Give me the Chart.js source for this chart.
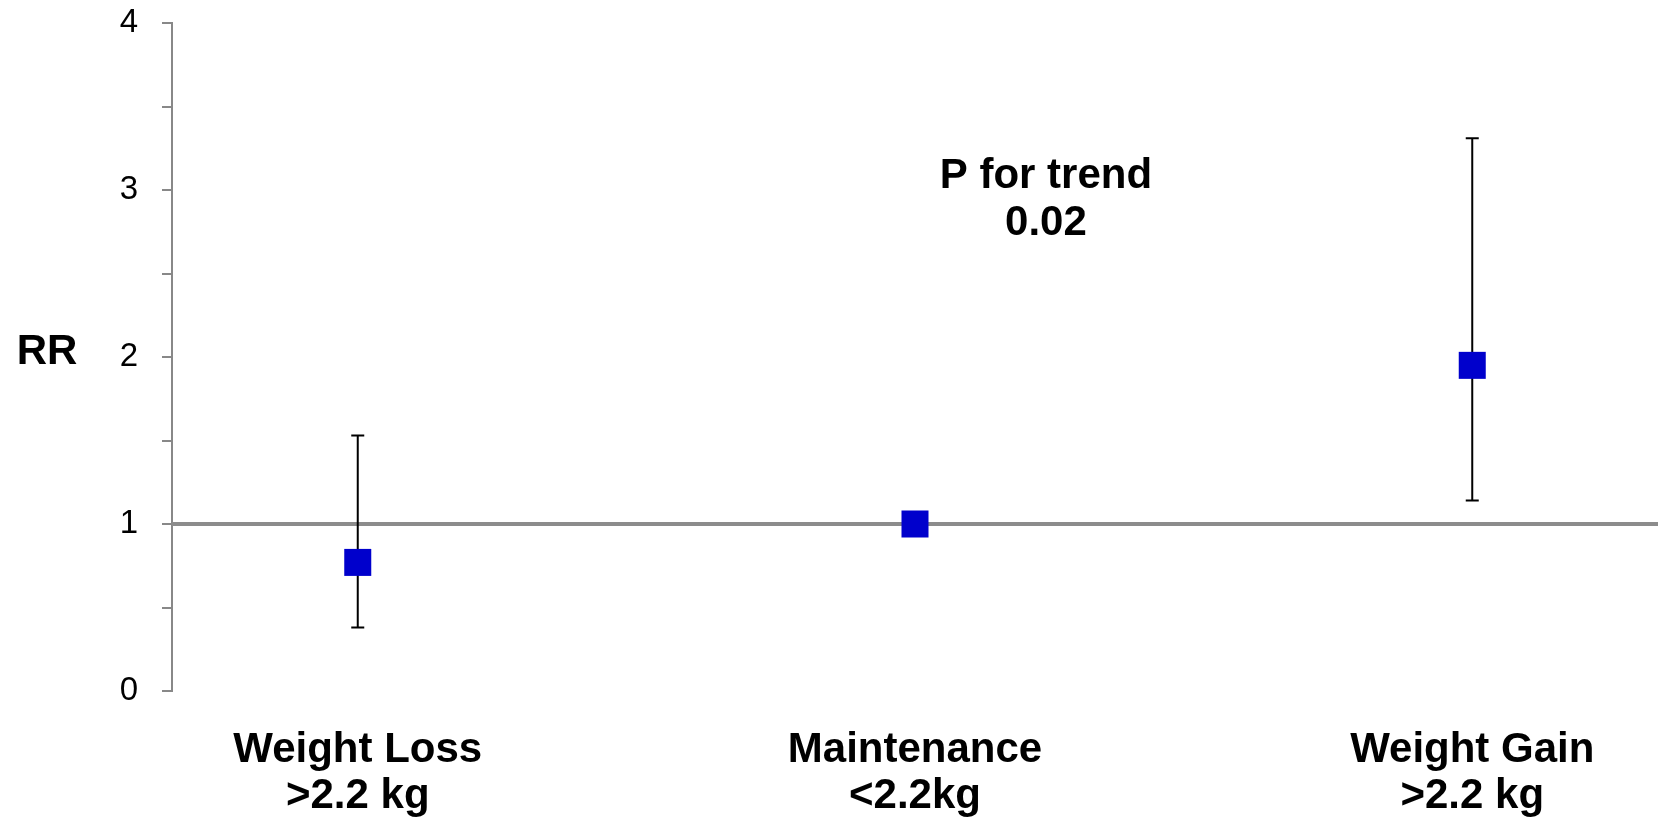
<!DOCTYPE html>
<html>
<head>
<meta charset="utf-8">
<script src="https://cdn.jsdelivr.net/npm/chart.js@4/dist/chart.umd.min.js"></script>
<style>
  html, body { margin: 0; padding: 0; background: #fff; overflow: hidden; }
  #wrap { width: 1658px; height: 825px; }
  canvas { display: block; }
</style>
</head>
<body>
<div id="wrap"><canvas id="rrChart" width="1658" height="825"></canvas></div>
<script>
// --- data ---
const categories = [
  ["Weight Loss", ">2.2 kg"],
  ["Maintenance", "<2.2kg"],
  ["Weight Gain", ">2.2 kg"],
];
const rrValues = [0.77, 1.0, 1.95]; //      relative risk per group
const ciLow = [0.38, null, 1.14]; //        lower bound of error bar
const ciHigh = [1.53, null, 3.31]; //       upper bound of error bar
const refValue = 1; //                      horizontal reference line
const yTickValues = [0, 1, 2, 3, 4];
const yAxisLabel = "RR";
const trendNote = ["P for trend", "0.02"];

// --- layout bits ---
const X_MIN = 2 / 3;
const X_MAX = 10 / 3;
const FONT = "'Liberation Sans', Arial, sans-serif";
const AXIS_GREY = "#888888";

(() => {
  const canvas = document.getElementById("rrChart");

  const points = rrValues.map((v, i) => ({ x: i + 1, y: v }));

  // error bars + extra text, drawn with the chart's own scales
  const extrasPlugin = {
    id: "extras",
    afterDatasetDraw(chart, args) {
      if (args.index !== 0) return; // draw right after the reference line
      const ctx = chart.ctx;
      const xs = chart.scales.x;
      const ys = chart.scales.y;
      ctx.save();
      ctx.strokeStyle = "#000000";
      ctx.lineWidth = 2;
      rrValues.forEach((v, i) => {
        if (ciLow[i] == null || ciHigh[i] == null) return;
        const px = xs.getPixelForValue(i + 1);
        const top = ys.getPixelForValue(ciHigh[i]);
        const bot = ys.getPixelForValue(ciLow[i]);
        ctx.beginPath();
        ctx.moveTo(px, top);
        ctx.lineTo(px, bot);
        ctx.moveTo(px - 6.5, top);
        ctx.lineTo(px + 6.5, top);
        ctx.moveTo(px - 6.5, bot);
        ctx.lineTo(px + 6.5, bot);
        ctx.stroke();
      });
      ctx.restore();
    },
    afterDraw(chart) {
      const ctx = chart.ctx;
      const xs = chart.scales.x;
      const ys = chart.scales.y;
      ctx.save();
      ctx.fillStyle = "#000000";
      ctx.textAlign = "center";
      ctx.textBaseline = "middle";
      ctx.font = "bold 42px " + FONT;
      // "RR" beside the y axis, level with tick 2
      ctx.fillText(yAxisLabel, 47, ys.getPixelForValue(2) - 5);
      // trend note
      const nx = xs.getPixelForValue(2.235);
      const ny = ys.getPixelForValue(3.08);
      trendNote.forEach((line, i) => {
        ctx.fillText(line, nx, ny + i * 47);
      });
      ctx.restore();
    },
  };

  new Chart(canvas, {
    type: "scatter",
    data: {
      datasets: [
        {
          type: "line",
          data: [
            { x: X_MIN, y: refValue },
            { x: X_MAX, y: refValue },
          ],
          borderColor: "#8c8c8c",
          borderWidth: 4,
          pointRadius: 0,
          order: 1,
        },
        {
          data: points,
          pointStyle: "rect",
          pointRadius: 19.1,
          pointBackgroundColor: "#0000cc",
          pointBorderColor: "#0000cc",
          pointBorderWidth: 0,
          order: 0,
        },
      ],
    },
    plugins: [extrasPlugin],
    options: {
      responsive: false,
      animation: false,
      layout: { autoPadding: false, padding: { top: 23, left: 0, right: 0, bottom: 0 } },
      plugins: {
        legend: { display: false },
        tooltip: { enabled: false },
      },
      scales: {
        x: {
          type: "linear",
          min: X_MIN,
          max: X_MAX,
          afterBuildTicks(scale) {
            scale.ticks = categories.map((c, i) => ({ value: i + 1 }));
          },
          afterFit(scale) {
            scale.height = 134;
            scale.paddingRight = 0;
            scale.paddingLeft = 0;
          },
          grid: { display: false },
          border: { display: false },
          ticks: {
            maxRotation: 0,
            autoSkip: false,
            padding: 28,
            color: "#000000",
            font: { family: FONT, size: 42, weight: "bold", lineHeight: 1.1 },
            callback: (value) => categories[Math.round(value) - 1] || "",
          },
        },
        y: {
          min: 0,
          max: 4,
          afterBuildTicks(scale) {
            const t = [];
            yTickValues.forEach((v, i) => {
              t.push({ value: v });
              if (i < yTickValues.length - 1) t.push({ value: v + 0.5 });
            });
            scale.ticks = t;
          },
          afterFit(scale) {
            scale.width = 172;
            scale.paddingTop = 0;
            scale.paddingBottom = 0;
          },
          grid: {
            drawOnChartArea: false,
            drawTicks: true,
            tickLength: 10,
            color: AXIS_GREY,
            lineWidth: 2,
          },
          border: { display: true, color: AXIS_GREY, width: 2 },
          ticks: {
            padding: 24,
            color: "#000000",
            font: { family: FONT, size: 33 },
            callback: (value) => (Number.isInteger(value) ? String(value) : ""),
          },
        },
      },
    },
  });
})();
</script>
</body>
</html>
